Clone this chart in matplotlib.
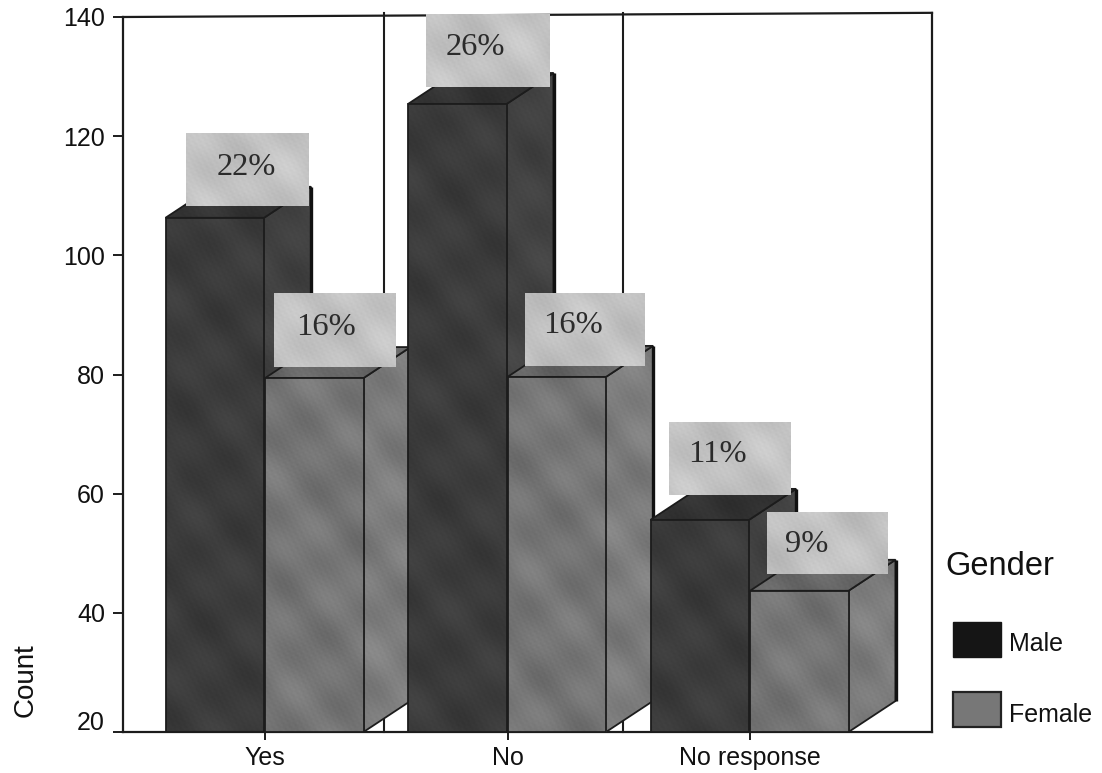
import matplotlib
matplotlib.use("Agg")
import matplotlib.pyplot as plt
import numpy as np
from matplotlib.patches import Polygon, Rectangle, Patch
from matplotlib.transforms import ScaledTranslation

# ---- data ----
categories = ["Yes", "No", "No response"]
male_counts = [106.3, 125.4, 55.6]
female_counts = [79.4, 79.6, 43.7]
male_labels = ["22%", "26%", "11%"]
female_labels = ["16%", "16%", "9%"]
y_ticks = [20, 40, 60, 80, 100, 120, 140]

# ---- layout (pixels of the 1102x773 figure) ----
W, H = 1102, 773
AX_L, AX_R, AX_T, AX_B = 123, 932, 17, 732
CAT_PX = 242.5
CAT0_PX = 265
BAR_PX = 98.5
DX_PX, DY_PX = 47, 31

plt.rcParams["font.family"] = ["Liberation Sans", "DejaVu Sans"]
fig = plt.figure(figsize=(W / 100, H / 100), dpi=100, facecolor="white")
ax = fig.add_axes([AX_L / W, 1 - AX_B / H, (AX_R - AX_L) / W, (AX_B - AX_T) / H])
XLIM = ((AX_L - CAT0_PX) / CAT_PX, (AX_R - CAT0_PX) / CAT_PX)
ax.set_ylim(20, 140)
ax.set_xlim(*XLIM)
ax.set_autoscale_on(False)
PY = 120 / (AX_B - AX_T)   # data units per pixel, y
PX = 1 / CAT_PX            # data units per pixel, x
dx, dy, w = DX_PX * PX, DY_PX * PY, BAR_PX * PX

EDGE = "#1c1c1c"
MALE = dict(front=0.235, side=0.26, top=0.20)
FEMALE = dict(front=0.46, side=0.49, top=0.40)
BOX = 0.76


def texture(x0, x1, y0, y1, base, amp):
    """Paper-like mottling: a grey field over a face's extent."""
    xx, yy = np.meshgrid(np.arange(x0, x1 + PX, PX * 2) / PX,
                         np.arange(y0, y1 + PY, PY * 2) / PY)
    coarse = (np.sin(0.061 * xx + 0.037 * yy) + np.sin(0.043 * xx - 0.083 * yy + 1.0)
              + np.sin(0.11 * xx + 0.097 * yy + 2.0)) / 3
    fine = np.sin(1.37 * xx + 0.41 * yy) * np.sin(0.93 * yy - 0.71 * xx + 0.5)
    return base + amp * coarse + 0.35 * amp * fine


def mottle(patch, base, amp, z):
    bb = patch.get_path().get_extents(patch.get_patch_transform())
    tex = texture(bb.x0, bb.x1, bb.y0, bb.y1, base, amp)
    im = ax.imshow(tex, extent=(bb.x0, bb.x1, bb.y0, bb.y1), origin="lower", cmap="gray",
                   vmin=0, vmax=1, aspect="auto", zorder=z, interpolation="bilinear")
    im.set_clip_path(patch)
    ax.set_xlim(*XLIM)
    ax.set_ylim(20, 140)


# back wall lines
for xp in (384, 623):
    ax.plot([(xp - CAT0_PX) * PX] * 2, [20, 140.6], color=EDGE, lw=1.5, zorder=1, clip_on=False)
ax.plot(XLIM, [140, 140.7], color=EDGE, lw=1.6, zorder=1, clip_on=False)

ax.spines["top"].set_visible(False)
for s in ("left", "bottom", "right"):
    ax.spines[s].set_color(EDGE)
    ax.spines[s].set_linewidth(1.6)
ax.spines["right"].set_bounds(20, 140.7)


def face(pts, base, amp, z, lw=1.3):
    p = Polygon(pts, closed=True, fc=str(base), ec="none", zorder=z)
    ax.add_patch(p)
    mottle(p, base, amp, z + 0.01)
    ax.add_patch(Polygon(pts, closed=True, fc="none", ec=EDGE, lw=lw, zorder=z + 0.02))


def bar3d(x0, val, col, amp, z):
    x1 = x0 + w
    face([(x1, 20), (x1 + dx, 20 + dy), (x1 + dx, val + dy), (x1, val)], col["side"], amp, z)
    face([(x0, val), (x0 + dx, val + dy), (x1 + dx, val + dy), (x1, val)], col["top"], amp, z + 0.1)
    ax.plot([x1 + dx] * 2, [20 + dy, val + dy], color="#111111", lw=2.4, zorder=z + 0.15,
            solid_capstyle="butt")
    bars = ax.bar(x0, val - 20, w, bottom=20, align="edge", color=str(col["front"]),
                  edgecolor="none", zorder=z + 0.2)
    mottle(bars[0], col["front"], amp, z + 0.21)
    ax.bar(x0, val - 20, w, bottom=20, align="edge", facecolor="none",
           edgecolor=EDGE, linewidth=1.3, zorder=z + 0.22)


def label3d(x0, val, text, off_x, gap, bw, bh, tx, ty, z):
    left = x0 + off_x * PX
    bottom = val + gap * PY
    right, top = left + bw * PX, bottom + bh * PY
    ax.add_patch(Rectangle((left, bottom), bw * PX, bh * PY, fc=str(BOX), ec="none",
                           zorder=z, clip_on=False))
    ax.imshow(texture(left, right, bottom, top, BOX, 0.05), extent=(left, right, bottom, top),
              origin="lower", cmap="gray", vmin=0, vmax=1, aspect="auto", zorder=z + 0.01,
              clip_on=False, interpolation="bilinear")
    ax.set_xlim(*XLIM)
    ax.set_ylim(20, 140)
    ax.text(left + tx * PX, bottom + ty * PY, text, family="Liberation Serif", fontsize=23.4,
            color="#2b2b2b", ha="center", va="center", zorder=z + 0.1, clip_on=False)


# per-label box placement, pixels: x offset from bar, gap over bar top, size, text centre
male_box = [(20, 12, 123, 73, 61, 38), (18, 17, 124, 73, 49, 39), (18, 25, 121, 73, 49, 40)]
female_box = [(9, 11, 122, 73, 52, 40), (17, 11, 120, 73, 49, 40), (17, 17, 121, 62, 40, 29)]
MALE_SHIFT = 1 * PX

z = 2
for i in range(len(categories)):
    bar3d(i - w - MALE_SHIFT, male_counts[i], MALE, 0.03, z)
    bar3d(i, female_counts[i], FEMALE, 0.05, z + 1)
    label3d(i - w - MALE_SHIFT, male_counts[i], male_labels[i], *male_box[i], z + 0.6)
    label3d(i, female_counts[i], female_labels[i], *female_box[i], z + 1.6)
    z += 2

ax.set_yticks(y_ticks)
ax.set_xticks(range(len(categories)))
ax.set_xticklabels(categories)
ax.tick_params(axis="y", length=7, width=1.4, pad=6, labelsize=18, color=EDGE, labelcolor="#111111")
ax.tick_params(axis="x", length=6, width=1.4, pad=4, labelsize=18, color=EDGE, labelcolor="#111111")
ax.set_ylabel("Count", fontsize=20, color="#111111")
ax.yaxis.set_label_coords(26 / W, 1 - 680 / H, transform=fig.transFigure)
ax.yaxis.label.set_va("center")

# the lowest y label sits raised above its tick in the reference
low = ax.yaxis.get_major_ticks()[0].label1
low.set_transform(low.get_transform() + ScaledTranslation(0, 12 / 100, fig.dpi_scale_trans))

handles = [Patch(fc="#151515", ec="#151515", label="Male"),
           Patch(fc="#777777", ec="#222222", lw=1.6, label="Female")]
leg = ax.legend(handles=handles, title="Gender", loc="upper left", frameon=False,
                bbox_to_anchor=(953 / W, 1 - 555 / H), bbox_transform=fig.transFigure,
                fontsize=18, title_fontsize=23.5, borderpad=0, borderaxespad=0,
                handlelength=1.92, handleheight=1.78, labelspacing=1.42, handletextpad=0.32,
                alignment="left")
leg.get_title().set_color("#111111")
leg.get_title().set_position((-8, 4))
for t in leg.get_texts():
    t.set_color("#111111")
    t.set_y(-4)
leg.set_zorder(20)

fig.savefig("out.png", dpi=100)
